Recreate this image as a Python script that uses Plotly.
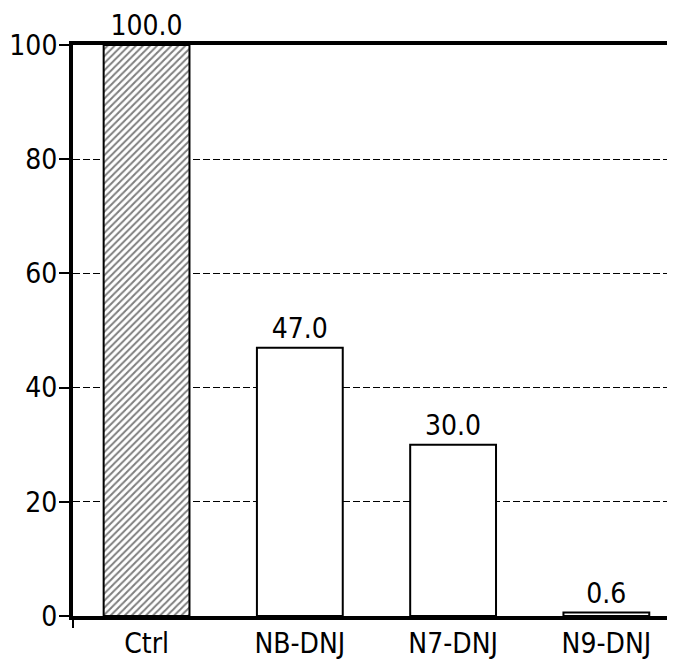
import plotly.graph_objects as go

categories = ["Ctrl", "NB-DNJ", "N7-DNJ", "N9-DNJ"]
values = [100.0, 47.0, 30.0, 0.6]
labels = ["100.0", "47.0", "30.0", "0.6"]
y_ticks = [0, 20, 40, 60, 80, 100]

FONT = "DejaVu Sans Condensed, Liberation Sans Narrow, Arial Narrow, sans-serif"
FS = 28

fig = go.Figure()
fig.add_trace(go.Bar(
    x=categories,
    y=values,
    width=0.56,
    text=labels,
    textposition="outside",
    cliponaxis=False,
    textfont=dict(family=FONT, size=FS, color="black"),
    marker=dict(
        color="white",
        line=dict(color="black", width=2),
        pattern=dict(
            shape=["/", "", "", ""],
            fgcolor="black",
            bgcolor="white",
            size=5,
            solidity=0.4,
        ),
    ),
))

fig.add_shape(type="line", xref="paper", yref="paper",
              x0=0, x1=0, y0=0, y1=-12 / 571,
              line=dict(color="black", width=2))

fig.update_layout(
    width=675,
    height=666,
    margin=dict(l=65, r=0, t=37, b=58, autoexpand=False),
    plot_bgcolor="white",
    paper_bgcolor="white",
    showlegend=False,
    font=dict(family=FONT, size=FS, color="black"),
)
fig.update_xaxes(
    range=[-0.48, 3.50],
    showline=True,
    linecolor="black",
    linewidth=4,
    mirror=True,
    ticks="",
    showgrid=False,
    ticklabelstandoff=-1,
    tickfont=dict(family=FONT, size=FS, color="black"),
)
fig.update_yaxes(
    range=[0, 100],
    tickvals=y_ticks,
    showline=True,
    linecolor="black",
    linewidth=4,
    ticks="outside",
    ticklen=10,
    tickwidth=2,
    tickcolor="black",
    showgrid=True,
    gridcolor="black",
    gridwidth=1.3,
    griddash="7px,3px",
    zeroline=False,
    ticklabelstandoff=-4,
    tickfont=dict(family=FONT, size=FS, color="black"),
)

fig.write_html("out.html")
